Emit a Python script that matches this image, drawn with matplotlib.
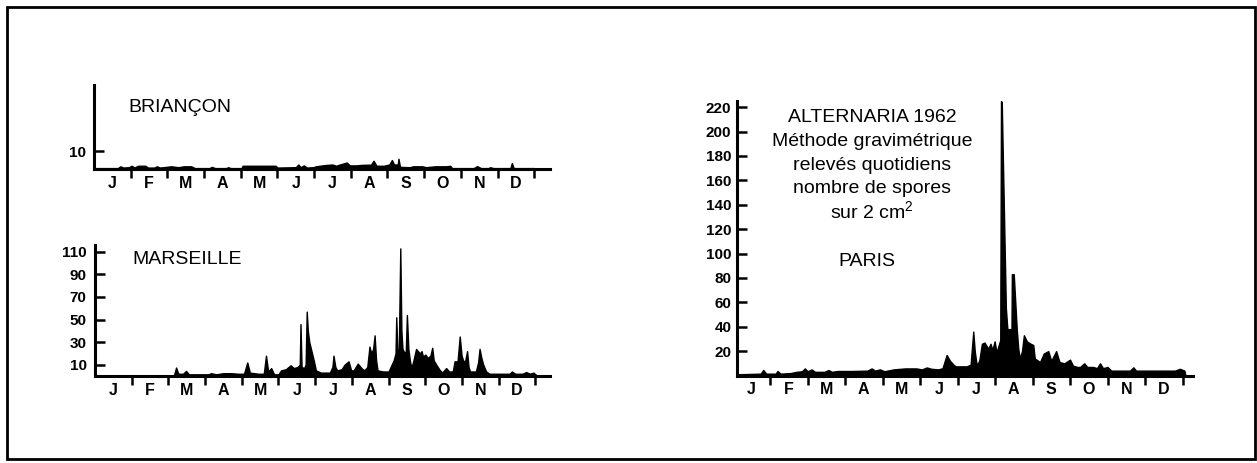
import matplotlib.pyplot as plt
from matplotlib.patches import Rectangle


plt.rcParams["font.family"] = ["Liberation Sans", "DejaVu Sans"]
plt.rcParams["mathtext.fontset"] = "custom"
plt.rcParams["mathtext.rm"] = "Liberation Sans"

# 月份标注（每格一个月）
MONTHS = ["J", "F", "M", "A", "M", "J", "J", "A", "S", "O", "N", "D"]

# 时间以“月”为单位：0 = 1月1日，12 = 年末
BRIANCON_T = [
    0.00, 0.65, 0.72, 0.80, 0.95, 1.03, 1.10, 1.20, 1.40, 1.47, 1.65, 1.71,
    1.80, 1.98, 2.10, 2.30, 2.45, 2.65, 2.75, 3.15, 3.21, 3.30, 3.60, 3.66,
    3.72, 4.02, 4.05, 4.95, 5.00, 5.50, 5.57, 5.63, 5.72, 5.80, 5.98, 6.05,
    6.30, 6.50, 6.60, 6.70, 6.89, 6.97, 7.15, 7.30, 7.55, 7.62, 7.70, 7.90,
    8.05, 8.12, 8.18, 8.28, 8.30, 8.34, 8.60, 8.70, 8.95, 9.05, 9.30, 9.60,
    9.71, 9.76, 10.35, 10.44, 10.55, 10.75, 10.80, 10.88, 11.35, 11.39, 11.44, 12.00,
]
BRIANCON_N = [
    0.5, 0.5, 1.5, 0.8, 1.0, 1.8, 0.8, 1.8, 1.8, 0.8, 0.8, 1.5,
    0.8, 1.2, 1.5, 1.0, 1.5, 1.5, 0.5, 0.5, 1.2, 0.5, 0.5, 1.0,
    0.5, 0.5, 1.8, 1.8, 0.8, 1.0, 2.5, 1.0, 2.0, 0.8, 1.0, 1.5,
    2.2, 2.5, 1.8, 2.5, 3.6, 2.0, 2.0, 2.3, 2.4, 4.6, 1.8, 1.8,
    2.5, 5.0, 2.5, 2.5, 5.7, 1.2, 1.0, 1.5, 1.5, 1.0, 1.5, 1.5,
    1.8, 0.5, 0.5, 1.6, 0.5, 0.5, 1.0, 0.5, 0.5, 3.3, 0.5, 0.5,
]

MARSEILLE_T = [
    0.00, 2.15, 2.21, 2.27, 2.40, 2.48, 2.56, 2.90, 3.10, 3.16, 3.30, 3.50,
    3.70, 3.90, 4.06, 4.15, 4.22, 4.45, 4.60, 4.66, 4.72, 4.80, 4.88, 5.00,
    5.07, 5.20, 5.33, 5.42, 5.52, 5.58, 5.60, 5.63, 5.70, 5.74, 5.77, 5.80,
    5.84, 5.90, 5.96, 6.02, 6.15, 6.40, 6.47, 6.50, 6.55, 6.60, 6.72, 6.80,
    6.91, 6.98, 7.05, 7.16, 7.26, 7.34, 7.42, 7.48, 7.53, 7.58, 7.62, 7.66,
    7.70, 7.85, 8.00, 8.07, 8.14, 8.19, 8.21, 8.24, 8.28, 8.32, 8.35, 8.38,
    8.44, 8.47, 8.50, 8.54, 8.58, 8.62, 8.68, 8.75, 8.80, 8.85, 8.90, 8.94,
    9.00, 9.07, 9.14, 9.19, 9.23, 9.30, 9.38, 9.46, 9.57, 9.65, 9.75, 9.80,
    9.88, 9.94, 9.99, 10.03, 10.08, 10.14, 10.18, 10.22, 10.38, 10.44, 10.48, 10.53,
    10.58, 10.66, 10.75, 11.00, 11.30, 11.36, 11.45, 11.65, 11.75, 11.85, 11.95, 12.02,
]
MARSEILLE_N = [
    0.5, 0.5, 7.5, 2.0, 2.0, 4.5, 1.5, 1.5, 1.5, 2.5, 1.5, 2.5,
    2.5, 2.0, 2.0, 12.0, 3.0, 2.0, 2.0, 18.0, 4.0, 7.0, 1.5, 1.5,
    5.0, 6.0, 9.5, 7.0, 8.0, 10.0, 46.0, 8.0, 7.0, 10.0, 57.0, 40.0,
    30.0, 22.0, 14.0, 5.0, 3.0, 3.0, 8.0, 18.0, 8.0, 5.0, 6.0, 10.0,
    13.0, 5.0, 5.0, 11.0, 7.0, 5.0, 8.0, 26.0, 20.0, 24.0, 36.0, 14.0,
    5.0, 4.0, 4.0, 9.0, 14.0, 20.0, 52.0, 22.0, 24.0, 113.0, 40.0, 24.0,
    20.0, 22.0, 54.0, 24.0, 14.0, 7.0, 14.0, 24.0, 22.0, 20.0, 22.0, 17.0,
    19.0, 16.0, 18.0, 25.0, 14.0, 10.0, 6.0, 3.0, 7.0, 4.0, 4.0, 13.0,
    13.0, 35.0, 18.0, 14.0, 12.0, 22.0, 8.0, 4.0, 4.0, 12.0, 24.0, 16.0,
    10.0, 4.0, 2.0, 2.0, 2.0, 4.0, 2.0, 2.0, 3.5, 2.0, 3.0, 1.0,
]

PARIS_T = [
    0.12, 0.75, 0.82, 0.90, 1.15, 1.20, 1.28, 1.55, 1.71, 1.85, 1.93, 2.00,
    2.11, 2.20, 2.45, 2.56, 2.65, 2.80, 3.20, 3.60, 3.71, 3.80, 3.93, 4.05,
    4.30, 4.60, 4.90, 5.05, 5.18, 5.30, 5.49, 5.60, 5.71, 5.80, 5.89, 5.95,
    6.25, 6.35, 6.42, 6.46, 6.51, 6.58, 6.65, 6.72, 6.78, 6.82, 6.88, 6.93,
    6.99, 7.04, 7.10, 7.14, 7.16, 7.18, 7.29, 7.33, 7.44, 7.45, 7.50, 7.58,
    7.62, 7.66, 7.72, 7.77, 7.85, 7.95, 8.02, 8.06, 8.20, 8.30, 8.42, 8.50,
    8.63, 8.72, 8.85, 9.00, 9.08, 9.20, 9.27, 9.38, 9.46, 9.62, 9.72, 9.80,
    9.88, 10.00, 10.10, 10.60, 10.69, 10.76, 11.80, 11.93, 12.05, 12.08,
]
PARIS_N = [
    1.0, 1.5, 4.5, 1.5, 1.5, 3.7, 1.5, 2.0, 3.0, 3.5, 5.8, 3.5,
    5.0, 3.0, 3.0, 4.5, 3.0, 3.7, 3.7, 4.0, 5.8, 4.0, 5.0, 3.5,
    5.0, 5.8, 5.8, 5.0, 6.6, 5.5, 5.0, 6.0, 16.8, 12.0, 9.0, 7.5,
    7.5, 9.0, 36.0, 20.0, 8.5, 12.0, 26.0, 27.0, 24.0, 22.0, 26.0, 21.0,
    28.0, 19.0, 25.0, 29.0, 225.0, 224.0, 55.0, 38.0, 38.0, 83.0, 83.0, 38.0,
    22.0, 14.0, 20.0, 33.0, 28.0, 26.0, 25.0, 14.0, 11.0, 18.0, 20.0, 12.0,
    20.0, 11.0, 10.0, 13.0, 8.0, 7.0, 7.0, 10.0, 7.0, 7.0, 6.0, 10.0,
    6.0, 7.0, 4.0, 4.0, 6.7, 4.0, 4.0, 5.5, 4.0, 0.0,
]

W, H = 1257, 463


def px_box(left, top, right, bottom):
    """像素坐标 -> figure 坐标 [left, bottom, width, height]"""
    return [left / W, 1 - bottom / H, (right - left) / W, (bottom - top) / H]


def draw_station(fig, box, t, n, xlim, ylim, yticks, ypad=4):
    ax = fig.add_axes(px_box(*box))
    ax.fill_between(t, 0, n, color="black", lw=1.0, clip_on=False)

    ax.set_xlim(*xlim)
    ax.set_ylim(*ylim)
    for side in ["top", "right"]:
        ax.spines[side].set_visible(False)
    for side in ["left", "bottom"]:
        ax.spines[side].set_linewidth(2.2)

    # 月份：标签居中，刻度在月份分界处
    ax.set_xticks([i + 0.5 for i in range(12)])
    ax.set_xticklabels(MONTHS, fontsize=11.5, fontweight="bold")
    ax.set_xticks(range(1, 13), minor=True)
    ax.tick_params(axis="x", which="major", length=0, pad=5)
    ax.tick_params(axis="x", which="minor", direction="out", length=6.5, width=1.8)

    ax.set_yticks(yticks)
    ax.set_yticklabels([str(v) for v in yticks], fontsize=11, fontweight="bold")
    ax.tick_params(axis="y", direction="in", length=7.5, width=1.8, pad=ypad)
    ax.patch.set_visible(False)
    return ax


fig = plt.figure(figsize=(W / 100, H / 100), dpi=100)

draw_station(fig, (94, 85, 550, 169), BRIANCON_T, BRIANCON_N,
             (0, 12.43), (0, 46.7), [10], ypad=6)
draw_station(fig, (95, 245, 550, 376), MARSEILLE_T, MARSEILLE_N,
             (0, 12.4), (0, 116), [10, 30, 50, 70, 90, 110], ypad=6)
draw_station(fig, (737, 101, 1193, 375.5), PARIS_T, PARIS_N,
             (0.12, 12.28), (0, 225), list(range(20, 221, 20)))

fig.text(128 / W, 1 - 107 / H, "BRIANÇON", fontsize=14, va="center")
fig.text(132 / W, 1 - 260 / H, "MARSEILLE", fontsize=14, va="center")
fig.text(838 / W, 1 - 262 / H, "PARIS", fontsize=14, va="center")

title_lines = [
    "ALTERNARIA 1962",
    "Méthode gravimétrique",
    "relevés quotidiens",
    "nombre de spores",
    "sur 2 cm$^{\\mathrm{2}}$",
]
for k, line in enumerate(title_lines):
    fig.text(872 / W, 1 - (118 + 23.5 * k) / H, line, fontsize=14,
             ha="center", va="center")

# 外框
fig.add_artist(Rectangle((7 / W, 1 - 459 / H), 1248 / W, 452 / H,
                         transform=fig.transFigure, fill=False,
                         lw=2, edgecolor="black"))

fig.savefig("out.png", dpi=100)
